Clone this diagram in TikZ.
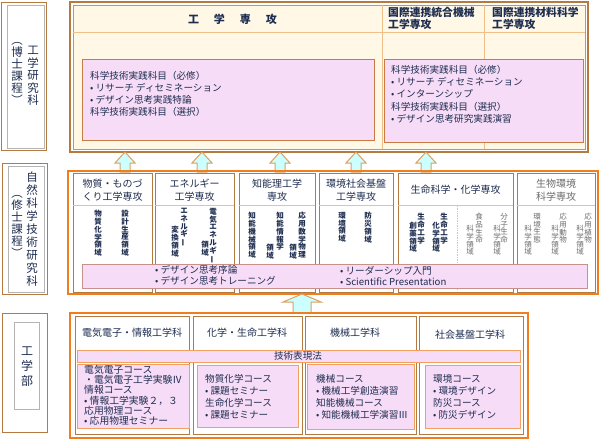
\documentclass[tikz,border=0pt]{standalone}
\usepackage{fontspec}
\usepackage{graphicx}
\setmainfont{Noto Sans CJK JP}
\definecolor{navy}{HTML}{1E2D50}
\definecolor{grayT}{HTML}{6B6B6B}
\definecolor{pinkF}{HTML}{F7DCF7}
\definecolor{pinkB}{HTML}{C97A45}
\definecolor{pinkM}{HTML}{C8908A}
\definecolor{pinkO}{HTML}{F2A060}
\definecolor{orangeT}{HTML}{F07D1E}
\definecolor{brownB}{HTML}{B57A40}
\definecolor{peach}{HTML}{F0C08A}
\definecolor{cream}{HTML}{FFF8E6}
\definecolor{arrowF}{HTML}{CCFFFF}
\definecolor{arrowB}{HTML}{DDA060}
\definecolor{grayB}{HTML}{B4B4B4}
\newcommand{\vbar}{\rotatebox[origin=c]{90}{ー}}
\begin{document}
\begin{tikzpicture}[x=1pt,y=-1pt,
  tx/.style={text=navy, inner sep=0, font=\fontsize{9.6}{12}\selectfont, align=left, anchor=north west},
  hd/.style={text=navy, inner sep=0, font=\fontsize{10}{13}\selectfont, align=center},
  vt/.style={text=navy, inner sep=0, font=\fontsize{7.5}{7.8}\selectfont\bfseries, align=center, anchor=north},
  vg/.style={vt, text=grayT, font=\fontsize{7.5}{7.8}\selectfont},
  lab/.style={text=navy, inner sep=0, align=center, anchor=north},
  pinkbox/.style={draw=pinkB, fill=pinkF, line width=0.8pt},
  pinkbar/.style={draw=pinkM, fill=pinkF, line width=0.8pt},
  pinkobox/.style={draw=pinkO, fill=pinkF, line width=0.9pt},
  deptbox/.style={draw=brownB, fill=white, line width=0.8pt},
  outerbox/.style={draw=orangeT, line width=2.5pt},
  labbox/.style={draw=brownB, fill=white, line width=1pt},
  labinner/.style={draw=grayB, line width=0.8pt},
  blockarrow/.style={draw=arrowB, fill=arrowF, line width=1pt, line join=miter}
]
\useasboundingbox (0,0) rectangle (600,439);
\fill[white] (0,0) rectangle (600,439);

% ---------- left labels ----------
\draw[labbox] (1,2) rectangle (46,150);
\draw[labinner] (7,5) rectangle (44,148);
\node[lab, font=\fontsize{11.5}{12.5}\selectfont] (l1a) at (33,46) {工\\学\\研\\究\\科};
\node[lab, font=\fontsize{11.5}{12}\selectfont] (l1b) at (17,42) {︵\\博\\士\\課\\程\\︶};

\draw[labbox] (2,163) rectangle (47,294);
\draw[labinner] (8,166) rectangle (44,292);
\node[lab, font=\fontsize{11.5}{13}\selectfont] (l2a) at (32,172) {自\\然\\科\\学\\技\\術\\研\\究\\科};
\node[lab, font=\fontsize{11.5}{12}\selectfont] (l2b) at (17,195) {︵\\修\\士\\課\\程\\︶};

\draw[labbox] (2,313) rectangle (47,432);
\draw[labinner] (14,322) rectangle (39,409);
\node[lab, font=\fontsize{12}{15}\selectfont] (l3) at (27,347) {工\\学\\部};

% ---------- top box ----------
\draw[brownB, line width=1.5pt] (70,2) rectangle (588,152);
\fill[cream] (73,5) rectangle (585,149);
\draw[brownB!80, line width=0.8pt] (73,5) rectangle (585,149);
\draw[peach, line width=0.8pt] (73,32) -- (585,32);
\draw[peach, line width=0.8pt] (382,5) -- (382,149);
\draw[peach, line width=0.8pt] (484,5) -- (484,149);
\node[text=navy, inner sep=0, font=\fontsize{11}{13}\selectfont\bfseries] (h1) at (232.5,19)
  {工\hspace{15pt}学\hspace{15pt}専\hspace{15pt}攻};
\node[tx, font=\fontsize{10.8}{12}\selectfont\bfseries] (h2) at (388,7) {国際連携統合機械\\工学専攻};
\node[tx, font=\fontsize{10.8}{12}\selectfont\bfseries] (h3) at (492,7) {国際連携材料科学\\工学専攻};

\draw[pinkbox] (82,59) rectangle (374,140);
\node[tx] (p1) at (90,71) {科学技術実践科目（必修）\\• リサーチ ディセミネーション\\• デザイン思考実践特論\\科学技術実践科目（選択）};
\draw[pinkbox] (384,59) rectangle (583,142);
\node[tx, font=\fontsize{9.6}{12.2}\selectfont] (p2) at (391,65) {科学技術実践科目（必修）\\• リサーチ ディセミネーション\\• インターンシップ\\科学技術実践科目（選択）\\• デザイン思考研究実践演習};

% ---------- arrows top ----------
\foreach \cx in {125,202,280,356,426}{
  \draw[blockarrow] (\cx,152) -- (\cx+10,163) -- (\cx+5,163) -- (\cx+5,172) -- (\cx-5,172) -- (\cx-5,163) -- (\cx-10,163) -- cycle;
}

% ---------- middle ----------
\foreach \xa/\xb in {73/152,155/234,239/315,319/393,398/513,517/595}{
  \draw[deptbox] (\xa,173) rectangle (\xb,292);
  \draw[peach, line width=0.8pt] (\xa,205) -- (\xb,205);
}
\node[hd] (m1) at (112.5,190.5) {物質・ものづ\\くり工学専攻};
\node[hd] (m2) at (194.5,190.5) {エネルギー\\工学専攻};
\node[hd] (m3) at (277,190.5) {知能理工学\\専攻};
\node[hd] (m4) at (356,190.5) {環境社会基盤\\工学専攻};
\node[hd] (m5) at (455.5,190) {生命科学・化学専攻};
\node[hd, text=grayT] (m6) at (556,190.5) {生物環境\\科学専攻};

\node[vt] (v1) at (98,210) {物\\質\\化\\学\\領\\域};
\node[vt] (v2) at (125,210) {設\\計\\生\\産\\領\\域};
\node[vt] (v3) at (184,208) {エ\\ネ\\ル\\ギ\\\vbar};
\node[vt] (v4) at (175,226) {変\\換\\領\\域};
\node[vt] (v5) at (213,208) {電\\気\\エ\\ネ\\ル\\ギ\\\vbar};
\node[vt] (v6) at (205,241) {領\\域};
\node[vt] (v7) at (252,212) {知\\能\\機\\械\\領\\域};
\node[vt] (v8) at (280,212) {知\\能\\情\\報\\学};
\node[vt] (v9) at (270,244) {領\\域};
\node[vt] (v10) at (302,212) {応\\用\\数\\学\\物\\理};
\node[vt] (v11) at (293,244) {領\\域};
\node[vt] (v12) at (342,212) {環\\境\\領\\域};
\node[vt] (v13) at (368,212) {防\\災\\領\\域};
\node[vt] (v14) at (421,213) {生\\命\\工\\学};
\node[vt] (v15) at (413,222) {創\\薬\\領\\域};
\node[vt] (v16) at (444,213) {生\\命\\工\\学};
\node[vt] (v17) at (436,222) {化\\学\\領\\域};
\draw[peach, line width=0.7pt, densely dotted] (457,206) -- (457,291);
\node[vg] (v18) at (479,213) {食\\品\\生\\命};
\node[vg] (v19) at (470,225) {科\\学\\領\\域};
\node[vg] (v20) at (504,213) {分\\子\\生\\命};
\node[vg] (v21) at (497,225) {科\\学\\領\\域};
\node[vg] (v22) at (537,213) {環\\境\\生\\態};
\node[vg] (v23) at (528,225) {科\\学\\領\\域};
\node[vg] (v24) at (563,213) {応\\用\\動\\物};
\node[vg] (v25) at (555,225) {科\\学\\領\\域};
\node[vg] (v26) at (588,213) {応\\用\\植\\物};
\node[vg] (v27) at (580,225) {科\\学\\領\\域};

\draw[pinkbar] (82,264) rectangle (587,288);
\node[tx, anchor=west, font=\fontsize{9.6}{11}\selectfont] (b1) at (155,275.5) {• デザイン思考序論\\• デザイン思考トレーニング};
\node[tx, anchor=west, font=\fontsize{9.6}{11}\selectfont] (b2) at (340,275.5) {• リーダーシップ入門\\• Scientific Presentation};

\draw[outerbox] (68,171) rectangle (598,294);

% ---------- bottom arrow ----------
\draw[blockarrow] (302,294) -- (321,302) -- (311,302) -- (311,313) -- (293,313) -- (293,302) -- (283,302) -- cycle;

% ---------- bottom ----------
\foreach \xa/\xb in {75/189,193/302,305/416,419/523}{
  \draw[deptbox] (\xa,316) rectangle (\xb,434);
}
\node[hd] (d1) at (132,333) {電気電子・情報工学科};
\node[hd] (d2) at (247,333) {化学・生命工学科};
\node[hd] (d3) at (355,333) {機械工学科};
\node[hd] (d4) at (470,335) {社会基盤工学科};

\draw[pinkobox] (77,350) rectangle (520,362);
\node[hd, font=\fontsize{9.6}{11}\selectfont] (tk) at (298,356) {技術表現法};

\draw[pinkobox] (77,364) rectangle (189,428);
\node[tx, font=\fontsize{9.8}{10.2}\selectfont] (c1) at (84,365) {電気電子コース\\・電気電子工学実験Ⅳ\\情報コース\\• 情報工学実験２，３\\応用物理コース\\• 応用物理セミナー};
\draw[pinkobox] (197,365) rectangle (298,427);
\node[tx] (c2) at (205,374) {物質化学コース\\• 課題セミナー\\生命化学コース\\• 課題セミナー};
\draw[pinkobox] (307,364) rectangle (414,429);
\node[tx] (c3) at (316,374) {機械コース\\• 機械工学創造演習\\知能機械コース\\• 知能機械工学演習Ⅲ};
\draw[pinkobox] (425,365) rectangle (520,428);
\node[tx] (c4) at (433,374) {環境コース\\• 環境デザイン\\防災コース\\• 防災デザイン};

\draw[outerbox] (70,313) rectangle (528,438);
\end{tikzpicture}
\end{document}
